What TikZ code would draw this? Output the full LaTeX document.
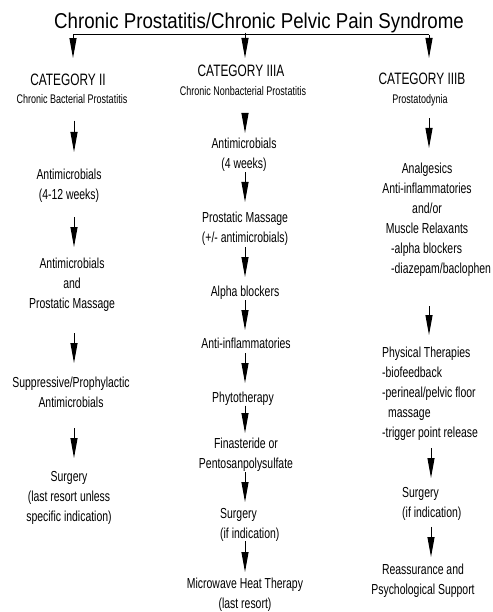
\documentclass[tikz,border=0pt]{standalone}
\usepackage{fontspec}
\setmainfont{Liberation Sans}[FakeStretch=0.72]
\newfontfamily\titlefont{Liberation Sans}[FakeStretch=0.87]
\usetikzlibrary{arrows.meta}
\tikzset{
  body/.style={font=\fontsize{14.5}{20}\selectfont, align=center, inner sep=0pt, anchor=north},
  bodyl/.style={font=\fontsize{14.5}{20}\selectfont, align=left, inner sep=0pt, anchor=north west},
  cat/.style={font=\fontsize{16.5}{20}\selectfont, inner sep=0pt, anchor=north},
  sub/.style={font=\fontsize{12.5}{15}\selectfont, inner sep=0pt, anchor=north},
  arr/.style={line width=1pt, -{Triangle[length=20pt,width=7pt]}},
  bar/.style={line width=1pt}
}
\begin{document}
\begin{tikzpicture}[x=1pt,y=-1pt]
\fill[white] (0,0) rectangle (492,612);
\useasboundingbox (0,0) rectangle (492,612);

% title and categories
\node[inner sep=0pt, anchor=north, font=\titlefont\fontsize{21.5}{24}\selectfont] (title) at (259,12.3) {Chronic Prostatitis/Chronic Pelvic Pain Syndrome};
\node[cat] (cat2) at (68,74.1) {CATEGORY II};
\node[sub] (sub2) at (72,94.5) {Chronic Bacterial Prostatitis};
\node[cat] (cat3a) at (241,65.1) {CATEGORY IIIA};
\node[sub] (sub3a) at (243,86.5) {Chronic Nonbacterial Prostatitis};
\node[cat] (cat3b) at (422,73.1) {CATEGORY IIIB};
\node[sub] (sub3b) at (420,94.5) {Prostatodynia};

% column x positions
\coordinate (xa) at (74,0);
\coordinate (xb) at (245,0);
\coordinate (xc) at (429,0);
\coordinate (xd) at (431,0);

% top bar
\coordinate (jL) at (73,35);
\coordinate (jM) at (245,35);
\coordinate (jR) at (429,35);
\draw[bar] (title.south -| jM) -- (jM);
\draw[bar] (jL) -- (jR);
\draw[arr, shorten >=16pt] (jL) -- (jL |- cat2.north);
\draw[arr, shorten >=7.1pt] (jM) -- (jM |- cat3a.north);
\draw[arr, shorten >=15.1pt] (jR) -- (jR |- cat3b.north);

% column 1
\node[body] (a1) at (69,168.7) {Antimicrobials\\(4-12 weeks)};
\node[body] (a2) at (72,257.7) {Antimicrobials\\and\\Prostatic Massage};
\node[body] (a3) at (71,376.7) {Suppressive/Prophylactic\\Antimicrobials};
\node[body] (a4) at (69,470.7) {Surgery\\(last resort unless\\specific indication)};

\draw[arr, shorten <=16.5pt, shorten >=16.7pt] (sub2.south -| xa) -- (a1.north -| xa);
\draw[arr, shorten <=14.7pt, shorten >=10.7pt] (a1.south -| xa) -- (a2.north -| xa);
\draw[arr, shorten <=21.7pt, shorten >=13.7pt] (a2.south -| xa) -- (a3.north -| xa);
\draw[arr, shorten <=20.7pt, shorten >=12.7pt] (a3.south -| xa) -- (a4.north -| xa);

% column 2
\node[body] (b1) at (244,137.7) {Antimicrobials\\(4 weeks)};
\node[body] (b2) at (245,211.7) {Prostatic Massage\\(+/- antimicrobials)};
\node[body] (b3) at (245,285.7) {Alpha blockers};
\node[body] (b4) at (246,337.7) {Anti-inflammatories};
\node[body] (b5) at (243,391.7) {Phytotherapy};
\node[body] (b6) at (246,437.7) {Finasteride or\\Pentosanpolysulfate};
\node[bodyl] (b7) at (220,507.7) {Surgery\\(if indication)};
\node[body] (b8) at (245,577.7) {Microwave Heat Therapy\\(last resort)};

\draw[arr, shorten <=17.5pt, shorten >=4.7pt] (sub3a.south -| xb) -- (b1.north -| xb);
\draw[arr, shorten <=0.7pt, shorten >=9.7pt] (b1.south -| xb) -- (b2.north -| xb);
\draw[arr, shorten <=1.7pt, shorten >=8.7pt] (b2.south -| xb) -- (b3.north -| xb);
\draw[arr, shorten <=0.7pt, shorten >=7.7pt] (b3.south -| xb) -- (b4.north -| xb);
\draw[arr, shorten <=4.7pt, shorten >=8.7pt] (b4.south -| xb) -- (b5.north -| xb);
\draw[arr, shorten <=0pt, shorten >=4.7pt] (b5.south -| xb) -- (b6.north -| xb);
\draw[arr, shorten <=0.7pt, shorten >=5.7pt] (b6.south -| xb) -- (b7.north -| xb);
\draw[arr, shorten <=0pt, shorten >=5.7pt] (b7.south -| xb) -- (b8.north -| xb);

% column 3
\node[body] (c1) at (427,162.7) {Analgesics\\Anti-inflammatories\\and/or\\Muscle Relaxants};
\node[bodyl] (c1b) at (391,242.7) {-alpha blockers\\-diazepam/baclophen};
\node[bodyl] (c2) at (382,346.7) {Physical Therapies\\-biofeedback\\-perineal/pelvic floor\\\hspace*{6pt}massage\\-trigger point release};
\node[bodyl] (c3) at (402,486.7) {Surgery\\(if indication)};
\node[body] (c4) at (423,563.7) {Reassurance and\\Psychological Support};

\draw[arr, shorten <=11.9pt, shorten >=14.7pt] (sub3b.south -| xc) -- (c1.north -| xc);
\draw[arr, shorten <=29.7pt, shorten >=11.7pt] (c1b.south -| xc) -- (c2.north -| xc);
\draw[arr, shorten <=7.7pt, shorten >=8.7pt] (c2.south -| xd) -- (c3.north -| xd);
\draw[arr, shorten <=6.7pt, shorten >=6.7pt] (c3.south -| xd) -- (c4.north -| xd);
\end{tikzpicture}
\end{document}
